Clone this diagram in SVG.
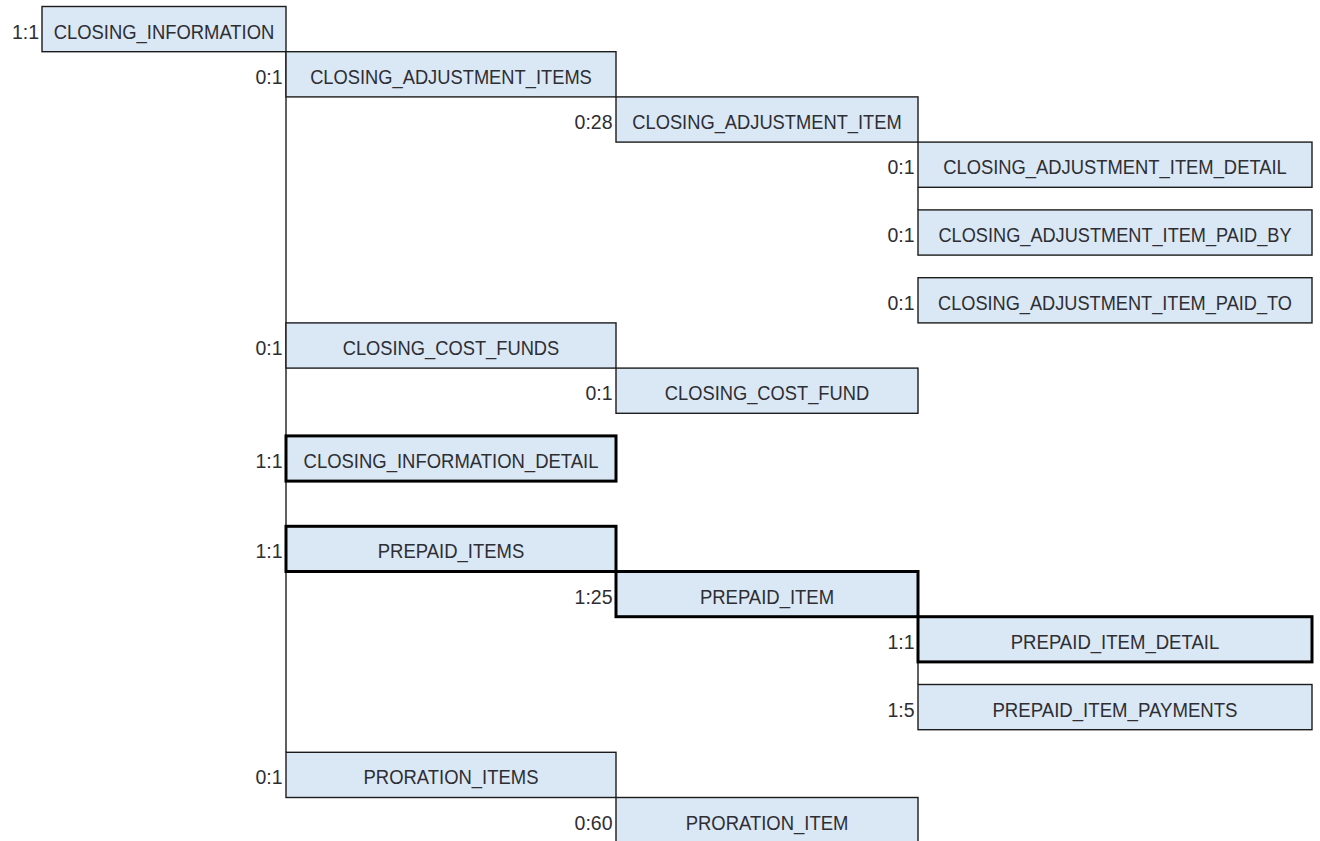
<svg xmlns="http://www.w3.org/2000/svg" width="1320" height="841" viewBox="0 0 1320 841">
<style>
  .box { fill: #dae8f6; stroke: #1c1c1c; stroke-width: 1.4; }
  .thick { fill: #dae8f6; stroke: #000; stroke-width: 3; }
  .name { font-family: "Liberation Sans", Arial, sans-serif; font-size: 19.5px; fill: #2e2e33; text-anchor: middle; }
  .card { font-family: "Liberation Sans", Arial, sans-serif; font-size: 19.5px; fill: #2e2e33; text-anchor: end; }
  .conn { stroke: #1c1c1c; stroke-width: 1.4; fill: none; }
</style>
<rect x="0" y="0" width="1320" height="841" fill="#ffffff"/>
<g id="connectors">
  <line class="conn" x1="286" y1="51.7" x2="286" y2="752.3"/>
  <line class="conn" x1="918" y1="187.3" x2="918" y2="209.9"/>
  <line class="conn" x1="918" y1="661.9" x2="918" y2="684.5"/>
</g>
<g id="closing_information">
  <rect class="box" x="42" y="6.5" width="244" height="45.2"/>
  <text class="name" x="164" y="38.5" textLength="220.6" lengthAdjust="spacingAndGlyphs">CLOSING_INFORMATION</text>
  <text class="card" x="39" y="38.5">1:1</text>
</g>
<g id="closing_adjustment_items">
  <rect class="box" x="286" y="51.7" width="330" height="45.2"/>
  <text class="name" x="451" y="83.7" textLength="281.7" lengthAdjust="spacingAndGlyphs">CLOSING_ADJUSTMENT_ITEMS</text>
  <text class="card" x="282.5" y="83.7">0:1</text>
</g>
<g id="closing_adjustment_item">
  <rect class="box" x="616" y="96.9" width="302" height="45.2"/>
  <text class="name" x="767" y="128.9" textLength="269.5" lengthAdjust="spacingAndGlyphs">CLOSING_ADJUSTMENT_ITEM</text>
  <text class="card" x="612.5" y="128.9">0:28</text>
</g>
<g id="closing_adjustment_item_detail">
  <rect class="box" x="918" y="142.1" width="394" height="45.2"/>
  <text class="name" x="1115" y="174.1" textLength="343.7" lengthAdjust="spacingAndGlyphs">CLOSING_ADJUSTMENT_ITEM_DETAIL</text>
  <text class="card" x="914.5" y="174.1">0:1</text>
</g>
<g id="closing_adjustment_item_paid_by">
  <rect class="box" x="918" y="209.9" width="394" height="45.2"/>
  <text class="name" x="1115" y="241.9" textLength="353" lengthAdjust="spacingAndGlyphs">CLOSING_ADJUSTMENT_ITEM_PAID_BY</text>
  <text class="card" x="914.5" y="241.9">0:1</text>
</g>
<g id="closing_adjustment_item_paid_to">
  <rect class="box" x="918" y="277.7" width="394" height="45.2"/>
  <text class="name" x="1115" y="309.7" textLength="354" lengthAdjust="spacingAndGlyphs">CLOSING_ADJUSTMENT_ITEM_PAID_TO</text>
  <text class="card" x="914.5" y="309.7">0:1</text>
</g>
<g id="closing_cost_funds">
  <rect class="box" x="286" y="322.9" width="330" height="45.2"/>
  <text class="name" x="451" y="354.9" textLength="216.6" lengthAdjust="spacingAndGlyphs">CLOSING_COST_FUNDS</text>
  <text class="card" x="282.5" y="354.9">0:1</text>
</g>
<g id="closing_cost_fund">
  <rect class="box" x="616" y="368.1" width="302" height="45.2"/>
  <text class="name" x="767" y="400.1" textLength="204.4" lengthAdjust="spacingAndGlyphs">CLOSING_COST_FUND</text>
  <text class="card" x="612.5" y="400.1">0:1</text>
</g>
<g id="closing_information_detail">
  <rect class="thick" x="286" y="435.9" width="330" height="45.2"/>
  <text class="name" x="451" y="467.9" textLength="294.9" lengthAdjust="spacingAndGlyphs">CLOSING_INFORMATION_DETAIL</text>
  <text class="card" x="282.5" y="467.9">1:1</text>
</g>
<g id="prepaid_items">
  <rect class="thick" x="286" y="526.3" width="330" height="45.2"/>
  <text class="name" x="451" y="558.3" textLength="146.4" lengthAdjust="spacingAndGlyphs">PREPAID_ITEMS</text>
  <text class="card" x="282.5" y="558.3">1:1</text>
</g>
<g id="prepaid_item">
  <rect class="thick" x="616" y="571.5" width="302" height="45.2"/>
  <text class="name" x="767" y="603.5" textLength="134.2" lengthAdjust="spacingAndGlyphs">PREPAID_ITEM</text>
  <text class="card" x="612.5" y="603.5">1:25</text>
</g>
<g id="prepaid_item_detail">
  <rect class="thick" x="918" y="616.7" width="394" height="45.2"/>
  <text class="name" x="1115" y="648.7" textLength="208.5" lengthAdjust="spacingAndGlyphs">PREPAID_ITEM_DETAIL</text>
  <text class="card" x="914.5" y="648.7">1:1</text>
</g>
<g id="prepaid_item_payments">
  <rect class="box" x="918" y="684.5" width="394" height="45.2"/>
  <text class="name" x="1115" y="716.5" textLength="245.1" lengthAdjust="spacingAndGlyphs">PREPAID_ITEM_PAYMENTS</text>
  <text class="card" x="914.5" y="716.5">1:5</text>
</g>
<g id="proration_items">
  <rect class="box" x="286" y="752.3" width="330" height="45.2"/>
  <text class="name" x="451" y="784.3" textLength="174.9" lengthAdjust="spacingAndGlyphs">PRORATION_ITEMS</text>
  <text class="card" x="282.5" y="784.3">0:1</text>
</g>
<g id="proration_item">
  <rect class="box" x="616" y="797.5" width="302" height="45.2"/>
  <text class="name" x="767" y="829.5" textLength="162.7" lengthAdjust="spacingAndGlyphs">PRORATION_ITEM</text>
  <text class="card" x="612.5" y="829.5">0:60</text>
</g>
</svg>
